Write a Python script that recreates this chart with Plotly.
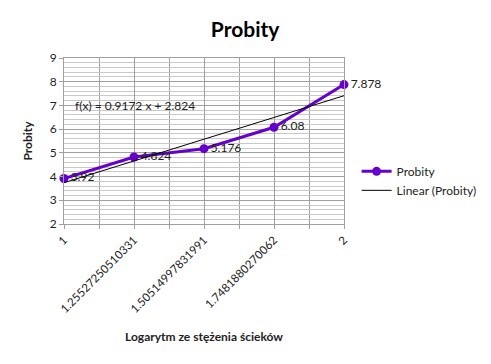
import plotly.graph_objects as go

categories = ["1", "1.25527250510331", "1.50514997831991", "1.7481880270062", "2"]
probity = [3.92, 4.824, 5.176, 6.08, 7.878]
slope = 0.9172
intercept = 2.824

idx = list(range(1, len(categories) + 1))
trend = [slope * i + intercept for i in idx]

font = "Lato, Open Sans, sans-serif"
fig = go.Figure()
fig.add_trace(go.Scatter(
    x=idx, y=probity, mode="lines+markers+text", name="Probity",
    line=dict(color="#6600CC", width=3), marker=dict(size=9, color="#6600CC"),
    text=[str(v) for v in probity], textposition="middle right",
    textfont=dict(size=12, color="#222", family=font), cliponaxis=False,
))
fig.add_trace(go.Scatter(
    x=idx, y=trend, mode="lines", name="Linear (Probity)",
    line=dict(color="black", width=1),
))
fig.add_annotation(x=1.13, y=7, xref="x", yref="y", xanchor="left",
                   text="f(x) = 0.9172 x + 2.824", showarrow=False,
                   font=dict(size=12, color="#222", family=font))
fig.update_layout(
    width=491, height=364,
    margin=dict(l=56, r=155, t=50, b=148),
    paper_bgcolor="white", plot_bgcolor="white",
    font=dict(family=font, color="#222"),
    title=dict(text="<b>Probity</b>", x=0.483, xanchor="center", y=0.94, yanchor="middle",
               font=dict(size=21, color="black", family=font)),
    showlegend=True,
    legend=dict(x=1.045, y=0.26, xanchor="left", yanchor="middle",
                font=dict(size=12, family=font), bgcolor="rgba(0,0,0,0)",
                tracegroupgap=0),
    xaxis=dict(range=[1, 5], tickvals=idx, ticktext=categories, tickangle=-45,
               automargin=False,
               showgrid=True, gridcolor="#A0A0A0", gridwidth=1,
               minor=dict(dtick=0.5, showgrid=True, gridcolor="#A0A0A0", ticks="outside", ticklen=4, tickcolor="#A0A0A0"),
               ticks="outside", ticklen=4, tickcolor="#A0A0A0",
               showline=True, linecolor="#A0A0A0", mirror=True, zeroline=False,
               tickfont=dict(size=11.5, family=font),
               title=dict(text="<b>Logarytm ze stężenia ścieków</b>", font=dict(size=12, family=font), standoff=18)),
    yaxis=dict(range=[2, 9], dtick=1, showgrid=True, gridcolor="#A0A0A0",
               automargin=False,
               minor=dict(dtick=0.2, showgrid=True, gridcolor="#C8C8C8"),
               ticks="outside", ticklen=4, tickcolor="#A0A0A0",
               showline=True, linecolor="#A0A0A0", mirror=True, zeroline=False,
               tickfont=dict(size=12, family=font),
               title=dict(text="<b>Probity</b>", font=dict(size=12, family=font), standoff=14)),
)
fig.write_html("out.html")
